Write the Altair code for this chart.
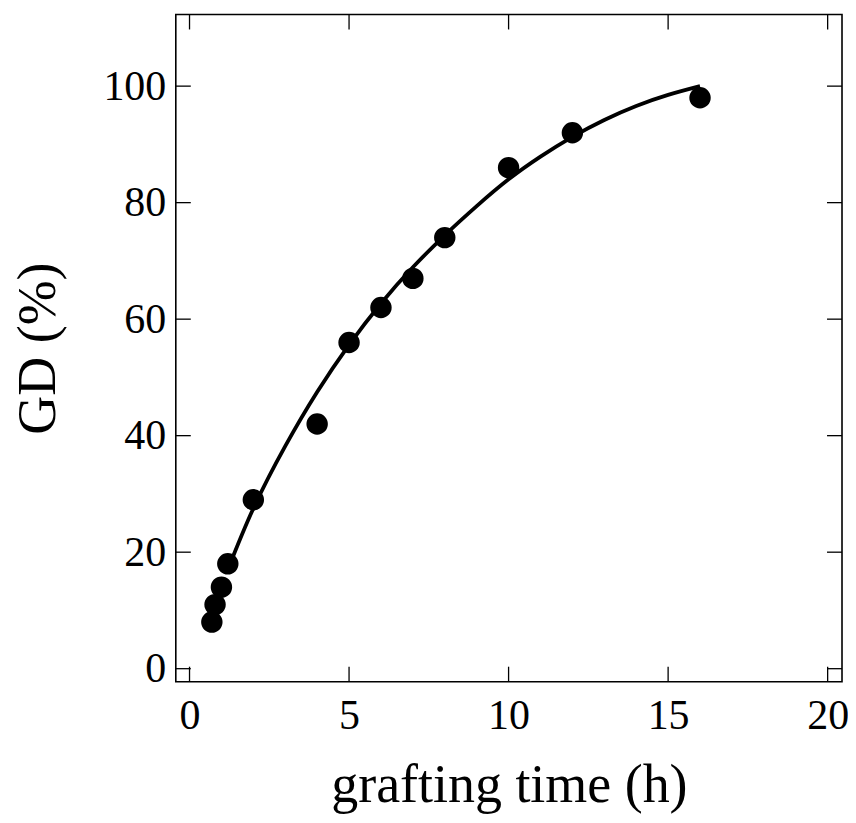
import altair as alt
import pandas as pd

# measured data points
time_h = [0.7, 0.8, 1.0, 1.2, 2.0, 4.0, 5.0, 6.0, 7.0, 8.0, 10.0, 12.0, 16.0]
gd_pct = [8, 11, 14, 18, 29, 42, 56, 62, 67, 74, 86, 92, 98]

# fitted curve
curve_x = [1.2, 2, 3, 4, 5, 6, 7, 8, 9, 10, 11, 12, 13, 14, 15, 16]
curve_y = [17, 27.5, 38.2, 47.5, 55.6, 62.7, 68.9, 74.4, 79.4, 84.0, 87.9, 91.3, 94.2, 96.6, 98.5, 100]

x_ticks = [0, 5, 10, 15, 20]
y_ticks = [0, 20, 40, 60, 80, 100]

W, H = 667, 668
TICK = 15
FONT = "Liberation Serif"

pts = pd.DataFrame({"t": time_h, "gd": gd_pct})
crv = pd.DataFrame({"t": curve_x, "gd": curve_y})
xt = pd.DataFrame({"v": x_ticks})
yt = pd.DataFrame({"v": y_ticks})

xscale = alt.Scale(domain=[-0.43, 20.45], nice=False, zero=False)
yscale = alt.Scale(domain=[-2.23, 112.3], nice=False, zero=False)

xaxis = alt.Axis(values=x_ticks, title="grafting time (h)", ticks=False, grid=False,
                 labelFont=FONT, labelFontSize=42, labelColor="black", labelPadding=14,
                 titleFont=FONT, titleFontSize=54, titleFontWeight="normal", titleColor="black",
                 titlePadding=22, domain=False)
yaxis = alt.Axis(values=y_ticks, title="GD (%)", ticks=False, grid=False,
                 labelFont=FONT, labelFontSize=42, labelColor="black", labelPadding=10,
                 titleFont=FONT, titleFontSize=54, titleFontWeight="normal", titleColor="black",
                 titlePadding=37, domain=False)

line = alt.Chart(crv).mark_line(color="black", strokeWidth=3.8, interpolate="natural").encode(
    x=alt.X("t:Q", scale=xscale, axis=xaxis),
    y=alt.Y("gd:Q", scale=yscale, axis=yaxis),
)
dots = alt.Chart(pts).mark_circle(color="black", opacity=1, size=460).encode(
    x=alt.X("t:Q", scale=xscale),
    y=alt.Y("gd:Q", scale=yscale),
)

xtick_bottom = alt.Chart(xt).mark_rule(color="black", strokeWidth=1.3).encode(
    x=alt.X("v:Q", scale=xscale), y=alt.value(H), y2=alt.value(H - TICK))
xtick_top = alt.Chart(xt).mark_rule(color="black", strokeWidth=1.3).encode(
    x=alt.X("v:Q", scale=xscale), y=alt.value(0), y2=alt.value(TICK))
ytick_left = alt.Chart(yt).mark_rule(color="black", strokeWidth=1.3).encode(
    y=alt.Y("v:Q", scale=yscale), x=alt.value(0), x2=alt.value(TICK))
ytick_right = alt.Chart(yt).mark_rule(color="black", strokeWidth=1.3).encode(
    y=alt.Y("v:Q", scale=yscale), x=alt.value(W), x2=alt.value(W - TICK))

chart = alt.layer(xtick_bottom, xtick_top, ytick_left, ytick_right, line, dots).properties(
    width=W, height=H,
    autosize=alt.AutoSizeParams(type="none"),
    padding={"left": 168, "top": 6, "right": 6, "bottom": 140},
    background="white",
).configure_view(stroke="black", strokeWidth=1.6)

chart.save("out.html", embed_options={"renderer": "svg", "actions": False})
